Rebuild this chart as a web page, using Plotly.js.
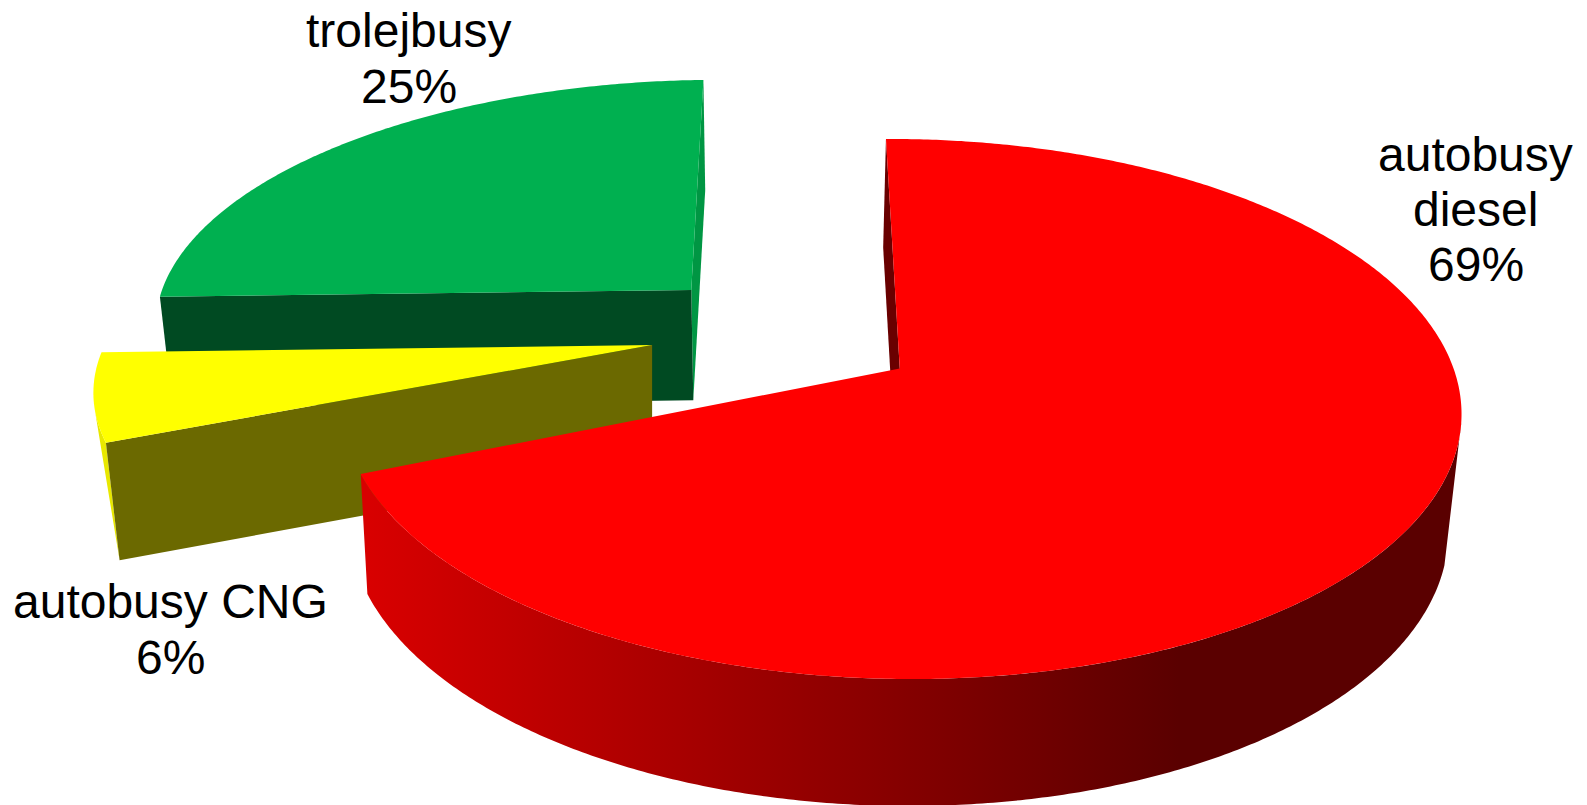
<!DOCTYPE html>
<html>
<head>
<meta charset="utf-8">
<script src="https://cdn.plot.ly/plotly-3.0.1.min.js"></script>
<style>html,body{margin:0;padding:0;background:#fff}#chart{width:1587px;height:805px}</style>
</head>
<body>
<div id="chart"></div>
<script>
// Data, in the order the slices run clockwise from twelve o'clock
const categories = ["autobusy diesel", "autobusy CNG", "trolejbusy"];
const shares = [69, 6, 25];
const labelLines = [["autobusy", "diesel"], ["autobusy CNG"], ["trolejbusy"]];

// Styling
const topColors = ["#ff0000", "#ffff00", "#00b050"];
const startWallColors = ["#690000", null, "#009643"];
const endWallColors = [null, "#6b6900", "#004a22"];
const rimColors = [null, "#e8e800", null];
const redRimScale = [[0, "#d80000"], [1, "#5a0000"]];

// Camera model of each exploded slice: apex, radii, perspective, skew, depth
const views = [
  {ax: 889, ay: 364, a: 546, b: 260, k: 0.15, m: -0.012, s: -32, t: 20, rot: -5, dx: -3, dy: 115, fx: 0.982, fy: 1.034, rimTop: [102, null], rimLow: [107, null]},
  {ax: 644.3, ay: 341, a: 544, b: 230, k: 0.15, m: 0, s: -11, t: -7, rot: 0, dx: 0, dy: 116, fx: 0.975, fy: 1.0, rimTop: [null, 256], rimLow: [null, null]},
  {ax: 683, ay: 286.6, a: 525, b: 228.4, k: 0.1, m: 0, s: -13.2, t: -6.5, rot: 0, dx: 2, dy: 109, fx: 0.98, fy: 1.0}
];
const labelAnchors = [
  {x: 1458, y: 153, step: 54},
  {x: 168.5, y: 594, step: 56},
  {x: 404, y: 30, step: 55}
];
const labelFontSize = 48;

function project(view, degrees, lower) {
  const th = (degrees + view.rot) * Math.PI / 180;
  const u = Math.sin(th), v = -Math.cos(th);
  const w = 1 - view.k * v + view.m * u;
  const px = (view.a * u + view.s * v) / w;
  const py = (view.b * v + view.t * u) / w;
  return lower
    ? [view.ax + view.dx + view.fx * px, view.ay + view.dy + view.fy * py]
    : [view.ax + px, view.ay + py];
}
function apex(view, lower) {
  return lower ? [view.ax + view.dx, view.ay + view.dy] : [view.ax, view.ay];
}
function arc(view, from, to, lower) {
  if (from === to) return [project(view, from, lower)];
  const pts = [];
  const n = Math.max(2, Math.ceil(Math.abs(to - from) * 2));
  for (let i = 0; i <= n; i++) pts.push(project(view, from + (to - from) * i / n, lower));
  return pts;
}
function shape(name, pts, color, gradient) {
  const closed = pts.concat([pts[0]]);
  const tr = {
    type: "scatter", mode: "none", fill: "toself", name: name, hoverinfo: "name",
    x: closed.map(p => p[0]), y: closed.map(p => p[1]), showlegend: false
  };
  if (gradient) tr.fillgradient = gradient; else tr.fillcolor = color;
  return tr;
}

const total = shares.reduce((p, c) => p + c, 0);
const layers = [];
let running = 0;
categories.forEach((name, i) => {
  const from = running / total * 360;
  const to = (running + shares[i]) / total * 360;
  running += shares[i];
  const view = views[i];
  const parts = [];
  // outer curved wall
  if (view.rimTop) {
    const t0 = view.rimTop[0] === null ? from : view.rimTop[0];
    const t1 = view.rimTop[1] === null ? to : view.rimTop[1];
    const l0 = view.rimLow[0] === null ? from : view.rimLow[0];
    const l1 = view.rimLow[1] === null ? (view.rimTop[1] === null ? to : from) : view.rimLow[1];
    const pts = arc(view, t0, t1, false).concat(arc(view, l1, l0, true));
    if (rimColors[i]) parts.push(shape(name, pts, rimColors[i]));
    else parts.push(shape(name, pts, null, {
      type: "horizontal", start: 365, stop: 1165, colorscale: redRimScale
    }));
  }
  // flat cut faces
  const startEdge = i === 0 ? from : to;   // the face turned to the viewer's right
  const endEdge = i === 0 ? to : from;     // the face turned to the viewer
  if (startWallColors[i]) {
    parts.unshift(shape(name, [apex(view), project(view, startEdge), project(view, startEdge, true), apex(view, true)], startWallColors[i]));
  }
  if (endWallColors[i]) {
    parts.push(shape(name, [apex(view), project(view, endEdge), project(view, endEdge, true), apex(view, true)], endWallColors[i]));
  }
  // top surface
  parts.push(shape(name, [apex(view)].concat(arc(view, from, to, false)), topColors[i]));
  layers.push(parts);
});
// Back slices are painted first: trolejbusy, CNG, then diesel in front
const traces = [].concat(layers[2], layers[1], layers[0]);

const annotations = [];
categories.forEach((name, i) => {
  const lines = labelLines[i].concat([shares[i] + "%"]);
  lines.forEach((line, j) => annotations.push({
    text: line, xref: "x", yref: "y", showarrow: false,
    x: labelAnchors[i].x, y: labelAnchors[i].y + j * labelAnchors[i].step,
    xanchor: "center", yanchor: "middle",
    font: {family: "Liberation Sans, Arial, sans-serif", size: labelFontSize, color: "#000"}
  }));
});

Plotly.newPlot("chart", traces, {
  width: 1587, height: 805,
  margin: {l: 0, r: 0, t: 0, b: 0, pad: 0},
  paper_bgcolor: "#fff", plot_bgcolor: "#fff",
  showlegend: false,
  xaxis: {range: [0, 1568], visible: false, fixedrange: true},
  yaxis: {range: [795.4, 0], visible: false, fixedrange: true},
  annotations: annotations
}, {displayModeBar: false, staticPlot: true});
</script>
</body>
</html>
